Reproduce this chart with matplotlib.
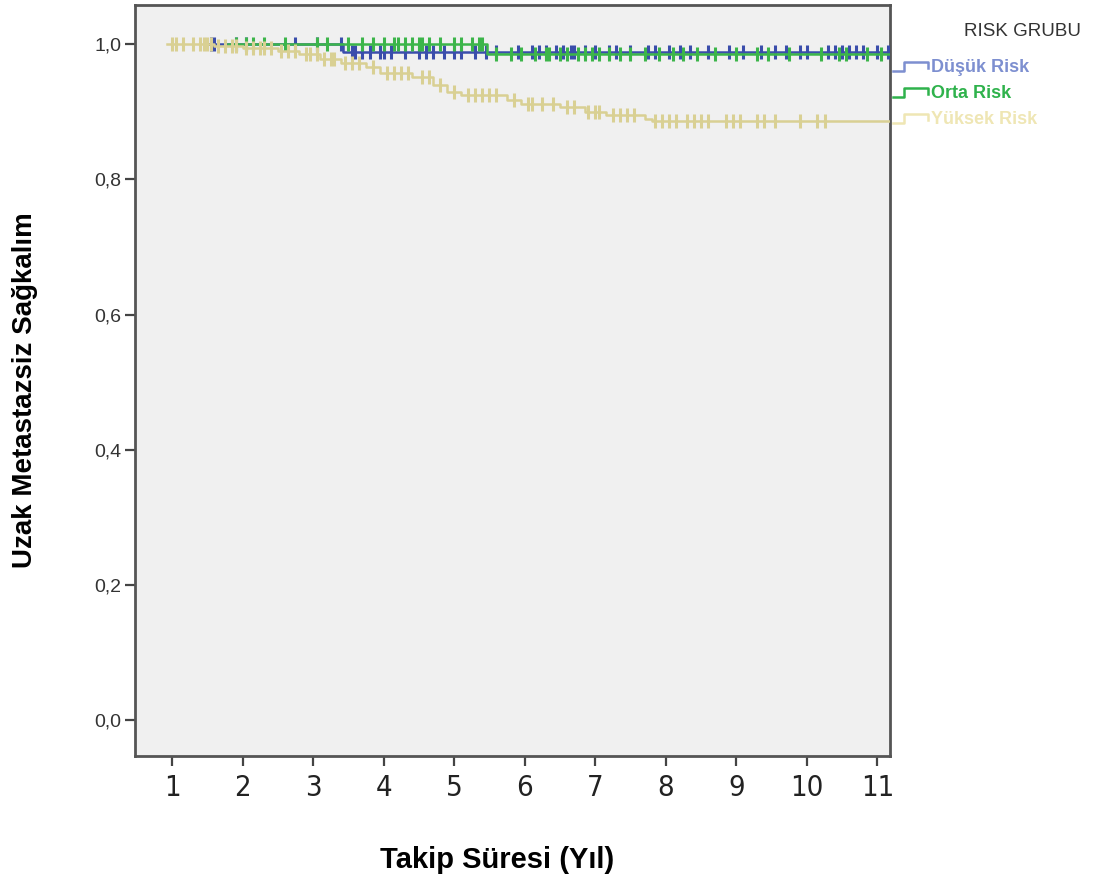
import matplotlib
matplotlib.use('Agg')
import matplotlib.pyplot as plt
from matplotlib.lines import Line2D

# risk gruplari ve renkleri
groups = ['Düşük Risk', 'Orta Risk', 'Yüksek Risk']
line_colors = ['#3a4dab', '#3cb54a', '#d9d093']
legend_colors = ['#7d8fd0', '#2fb24c', '#efe6b4']

# basamak noktalari (yil, sagkalim)
low_t = [1.5, 3.43, 11.2]
low_s = [1.0, 0.989, 0.989]
mid_t = [1.8, 5.47, 11.2]
mid_s = [1.0, 0.986, 0.986]
high_t = [0.93, 1.6, 2.0, 2.5, 2.8, 3.1, 3.4, 3.75, 3.95, 4.4, 4.7, 4.9, 5.1,
          5.75, 5.95, 6.5, 6.85, 7.15, 7.7, 7.8, 11.2]
high_s = [1.0, 0.997, 0.994, 0.99, 0.985, 0.978, 0.972, 0.966, 0.957, 0.951,
          0.94, 0.93, 0.925, 0.918, 0.912, 0.907, 0.90, 0.895, 0.89, 0.886, 0.886]

# sansurlu gozlemler (yil)
low_c = [1.55, 1.6, 1.9, 2.05, 2.75, 3.05, 3.4, 3.55, 3.6, 3.7, 3.8, 3.95, 4.0,
         4.1, 4.3, 4.5, 4.6, 4.7, 4.85, 5.0, 5.1, 5.3, 5.45, 5.6, 5.9, 6.1, 6.2,
         6.3, 6.45, 6.55, 6.65, 6.7, 6.85, 7.0, 7.2, 7.3, 7.5, 7.75, 7.85, 8.05,
         8.2, 8.35, 8.6, 8.9, 9.1, 9.35, 9.55, 9.7, 9.9, 10.0, 10.3, 10.4, 10.5,
         10.6, 10.7, 10.8, 11.0, 11.15]
mid_c = [1.9, 2.05, 2.15, 2.3, 2.6, 3.05, 3.2, 3.5, 3.7, 3.85, 4.0, 4.15, 4.2,
         4.3, 4.4, 4.5, 4.55, 4.65, 4.8, 5.0, 5.1, 5.25, 5.35, 5.4, 5.6, 5.8,
         5.95, 6.15, 6.3, 6.35, 6.5, 6.6, 6.75, 6.85, 6.95, 7.05, 7.2, 7.35, 7.5,
         7.7, 7.9, 8.1, 8.25, 8.45, 8.7, 9.0, 9.3, 9.45, 9.75, 10.2, 10.45,
         10.55, 10.85, 11.05]
high_c = [1.0, 1.05, 1.15, 1.3, 1.4, 1.45, 1.5, 1.55, 1.65, 1.75, 1.85, 1.9,
          2.05, 2.15, 2.25, 2.3, 2.4, 2.55, 2.65, 2.75, 2.9, 2.95, 3.05, 3.15,
          3.25, 3.3, 3.45, 3.55, 3.65, 3.85, 4.05, 4.15, 4.25, 4.35, 4.55, 4.65,
          4.8, 5.0, 5.2, 5.3, 5.4, 5.5, 5.6, 5.85, 6.05, 6.1, 6.25, 6.4, 6.6,
          6.7, 6.9, 7.0, 7.05, 7.25, 7.35, 7.45, 7.55, 7.85, 7.95, 8.05, 8.15,
          8.3, 8.4, 8.5, 8.6, 8.85, 8.95, 9.05, 9.3, 9.4, 9.55, 9.9, 10.15, 10.26]

x_ticks = list(range(1, 12))
y_ticks = [0.0, 0.2, 0.4, 0.6, 0.8, 1.0]
y_labels = ['0,0', '0,2', '0,4', '0,6', '0,8', '1,0']


def level_at(ts, ss, x):
    v = ss[0]
    for t, s in zip(ts, ss):
        if x >= t:
            v = s
    return v


fig = plt.figure(figsize=(11.1, 8.89), dpi=100)
ax = fig.add_axes([135 / 1110, 1 - 756 / 889, 755 / 1110, 751 / 889])
ax.set_facecolor('#f0f0f0')

series = [(low_t, low_s, low_c), (mid_t, mid_s, mid_c), (high_t, high_s, high_c)]
order = [2, 0, 1]
for i in order:
    ts, ss, cs = series[i]
    ax.step(ts, ss, where='post', color=line_colors[i], lw=1.8, zorder=3 + i)
    cy = [level_at(ts, ss, c) for c in cs]
    ax.plot(cs, cy, ls='none', marker='|', ms=10, mew=2.2,
            color=line_colors[i], zorder=3 + i)

ax.set_xlim(0.475, 11.18)
ax.set_ylim(-0.053, 1.058)
ax.set_xticks(x_ticks)
ax.set_xticklabels([str(v) for v in x_ticks], family='DejaVu Sans',
                   fontstretch='condensed', fontsize=21, color='#222222')
ax.set_yticks(y_ticks)
ax.set_yticklabels(y_labels, family='Liberation Sans', fontsize=14, color='#333333')
ax.tick_params(axis='both', direction='out', length=7, width=1.6, color='#444444')
ax.tick_params(axis='x', pad=6)
ax.tick_params(axis='y', pad=3)
for sp in ax.spines.values():
    sp.set_color('#555555')
    sp.set_linewidth(2)

fig.text(497 / 1110, 1 - 860 / 889, 'Takip Süresi (Yıl)', ha='center', va='center',
         family='Liberation Sans', fontweight='bold', fontsize=21)
fig.text(25 / 1110, 1 - 390 / 889, 'Uzak Metastazsiz Sağkalım', ha='center', va='center',
         rotation=90, family='Liberation Sans', fontweight='bold', fontsize=20)

# lejant
fig.text(1023 / 1110, 1 - 32 / 889, 'RISK GRUBU', ha='center', va='center',
         family='Liberation Sans', fontsize=13.5, color='#333333')
for k, g in enumerate(groups):
    yc = 67 + 26 * k
    xs = [893, 904, 904, 928, 928]
    ys = [yc + 4, yc + 4, yc - 5, yc - 5, yc + 1]
    fig.add_artist(Line2D([x / 1110 for x in xs], [1 - y / 889 for y in ys],
                          color=legend_colors[k], lw=1.8, transform=fig.transFigure))
    fig.text(931 / 1110, 1 - yc / 889, g, ha='left', va='center',
             family='Liberation Sans', fontweight='bold', fontsize=13,
             color=legend_colors[k])

fig.savefig('out.png', dpi=100)
